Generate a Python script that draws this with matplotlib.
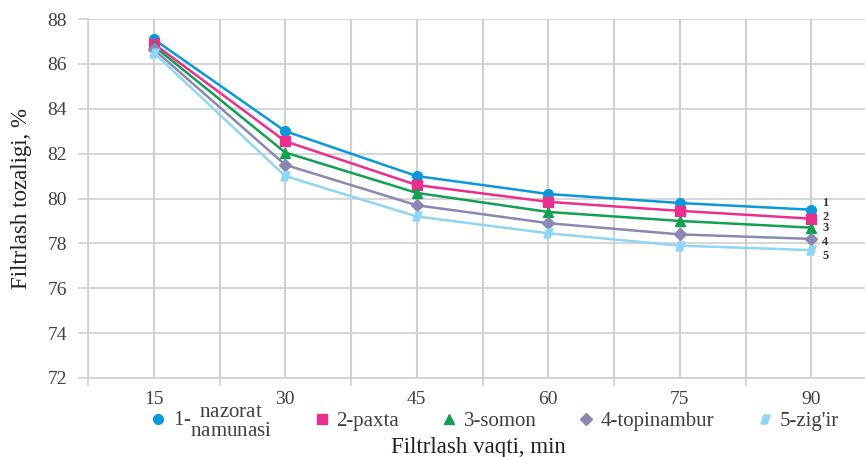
import matplotlib.pyplot as plt
from matplotlib.lines import Line2D
import numpy as np

# filtrlash vaqti (min) va tozalik (%) qiymatlari
vaqt = ["15", "30", "45", "60", "75", "90"]
nazorat = [87.1, 83.0, 81.0, 80.2, 79.8, 79.5]
paxta = [86.9, 82.55, 80.6, 79.85, 79.45, 79.1]
somon = [86.8, 82.05, 80.25, 79.4, 79.0, 78.7]
topinambur = [86.65, 81.5, 79.7, 78.9, 78.4, 78.2]
zigir = [86.5, 81.0, 79.2, 78.45, 77.9, 77.7]

belgilar = [r"1-$\genfrac{}{}{0}{0}{\mathrm{nazorat}}{\mathrm{namunasi}}$",
            "2-paxta", "3-somon", "4-topinambur", "5-zig'ir"]
raqamlar = ["1", "2", "3", "4", "5"]

ranglar = ["#0A98DA", "#EA2E8D", "#12A150", "#8B87B3", "#90D5F3"]
parallelogram = [(-1.0, -1.0), (0.35, -1.0), (1.0, 1.0), (-0.35, 1.0), (-1.0, -1.0)]
markerlar = ["o", "s", "^", "D", parallelogram]
msizes = [7, 6.5, 6.5, 6.5, 6.5]
# raqamlar bir-birini bosmasligi uchun vertikal siljish (pt)
siljish = [4.5, 1.5, -0.5, -2.5, -4.0]

text_color = "#404040"
grid_color = "#D0D0D0"

plt.rcParams["font.family"] = ["Liberation Serif", "DejaVu Serif"]
plt.rcParams["mathtext.fontset"] = "custom"
plt.rcParams["mathtext.rm"] = "Liberation Serif"

fig = plt.figure(figsize=(8.65, 4.57), dpi=100)
ax = fig.add_axes([88 / 865, 1 - 378 / 457, 789 / 865, 359 / 457])

x = np.arange(len(vaqt))
seriyalar = [nazorat, paxta, somon, topinambur, zigir]
for i, s in enumerate(seriyalar):
    ax.plot(x, s, color=ranglar[i], marker=markerlar[i], markersize=msizes[i],
            linewidth=1.8, zorder=3, clip_on=False)
    ax.annotate(raqamlar[i], (x[-1], s[-1]), xytext=(8, siljish[i]), textcoords="offset points",
                ha="left", va="center", fontsize=9, fontweight="bold", color="#333333")

ax.set_xlim(-0.5, len(vaqt) - 0.5)
ax.set_ylim(72, 88)
ax.set_yticks(np.arange(72, 89, 2))

# kategoriyalar orasidagi chiziqlar (asosiy) va kategoriya markazlari (kichik)
ax.set_xticks(np.arange(-0.5, len(vaqt), 1.0))
ax.set_xticklabels([])
ax.set_xticks(x, minor=True)
ax.set_xticklabels(vaqt, minor=True)

ax.tick_params(axis="x", which="major", length=6, color=grid_color, width=1.2)
ax.tick_params(axis="x", which="minor", length=0, pad=9, labelsize=14, labelcolor=text_color)
ax.tick_params(axis="y", length=7, color=grid_color, width=1.2, labelsize=14,
               labelcolor=text_color, pad=8)

ax.grid(True, which="both", axis="x", color=grid_color, linewidth=1.5)
ax.grid(True, which="major", axis="y", color=grid_color, linewidth=1.2)
ax.set_axisbelow(True)

for side in ["top", "right"]:
    ax.spines[side].set_visible(False)
ax.spines["left"].set_color(grid_color)
ax.spines["left"].set_linewidth(1.2)
ax.spines["bottom"].set_color(grid_color)
ax.spines["bottom"].set_linewidth(1.2)

ax.set_ylabel("Filtrlash tozaligi, %", fontsize=16.5, color="#222222", labelpad=11)
fig.text(478 / 865, 1 - 448 / 457, "Filtrlash vaqti, min", fontsize=16.5,
         color="#222222", ha="center", va="center")

handles = [Line2D([], [], color=ranglar[i], marker=markerlar[i], linestyle="none",
                  markersize=msizes[i]) for i in range(5)]
fig.legend(handles, belgilar, loc="center", bbox_to_anchor=(492 / 865, 1 - 421 / 457),
           ncol=5, frameon=False, fontsize=15, handletextpad=0.1,
           columnspacing=1.8, handlelength=1.2, labelcolor=text_color)

fig.savefig("out.png", dpi=100)
